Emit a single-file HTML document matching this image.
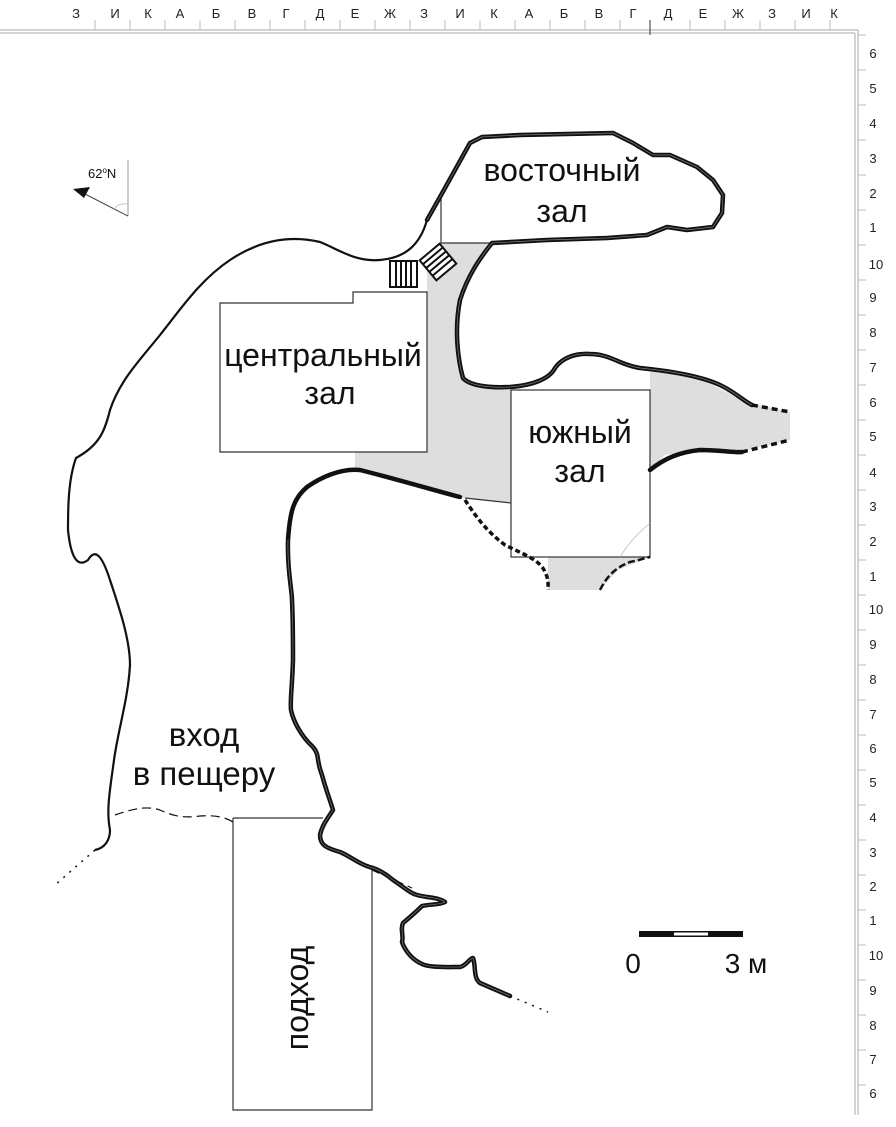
<!DOCTYPE html>
<html><head><meta charset="utf-8"><style>
html,body{margin:0;padding:0;background:#fff;}
svg{display:block;font-family:"Liberation Sans",sans-serif;}
</style></head><body>
<svg width="896" height="1127" viewBox="0 0 896 1127" xmlns="http://www.w3.org/2000/svg">
<!-- rulers -->
<g stroke="#aaa" fill="none" stroke-width="1">
<line x1="0" y1="30" x2="858" y2="30"/><line x1="0" y1="33" x2="855" y2="33"/>
<line x1="858" y1="30" x2="858" y2="1115"/><line x1="855" y1="33" x2="855" y2="1115"/>
</g>
<g stroke="#bbb" stroke-width="1">
<line x1="95" y1="20" x2="95" y2="30"/><line x1="130" y1="20" x2="130" y2="30"/><line x1="165" y1="20" x2="165" y2="30"/><line x1="200" y1="20" x2="200" y2="30"/><line x1="235" y1="20" x2="235" y2="30"/><line x1="270" y1="20" x2="270" y2="30"/><line x1="305" y1="20" x2="305" y2="30"/><line x1="340" y1="20" x2="340" y2="30"/><line x1="375" y1="20" x2="375" y2="30"/><line x1="410" y1="20" x2="410" y2="30"/><line x1="445" y1="20" x2="445" y2="30"/><line x1="480" y1="20" x2="480" y2="30"/><line x1="515" y1="20" x2="515" y2="30"/><line x1="550" y1="20" x2="550" y2="30"/><line x1="585" y1="20" x2="585" y2="30"/><line x1="620" y1="20" x2="620" y2="30"/><line x1="690" y1="20" x2="690" y2="30"/><line x1="725" y1="20" x2="725" y2="30"/><line x1="760" y1="20" x2="760" y2="30"/><line x1="795" y1="20" x2="795" y2="30"/><line x1="830" y1="20" x2="830" y2="30"/>
</g>
<line x1="650" y1="20" x2="650" y2="35" stroke="#333"/>
<g font-size="13" fill="#222" text-anchor="middle">
<text x="76" y="18">З</text><text x="115" y="18">И</text><text x="148" y="18">К</text><text x="180" y="18">А</text><text x="216" y="18">Б</text><text x="252" y="18">В</text><text x="286" y="18">Г</text><text x="320" y="18">Д</text><text x="355" y="18">Е</text><text x="390" y="18">Ж</text><text x="424" y="18">З</text><text x="460" y="18">И</text><text x="494" y="18">К</text><text x="529" y="18">А</text><text x="564" y="18">Б</text><text x="599" y="18">В</text><text x="633" y="18">Г</text><text x="668" y="18">Д</text><text x="703" y="18">Е</text><text x="738" y="18">Ж</text><text x="772" y="18">З</text><text x="806" y="18">И</text><text x="834" y="18">К</text>
</g>
<g font-size="13" fill="#222" text-anchor="middle">
<text x="873" y="58">6</text><text x="873" y="93">5</text><text x="873" y="128">4</text><text x="873" y="163">3</text><text x="873" y="198">2</text><text x="873" y="232">1</text><text x="876" y="269">10</text><text x="873" y="302">9</text><text x="873" y="337">8</text><text x="873" y="372">7</text><text x="873" y="407">6</text><text x="873" y="441">5</text><text x="873" y="477">4</text><text x="873" y="511">3</text><text x="873" y="546">2</text><text x="873" y="581">1</text><text x="876" y="614">10</text><text x="873" y="649">9</text><text x="873" y="684">8</text><text x="873" y="719">7</text><text x="873" y="753">6</text><text x="873" y="787">5</text><text x="873" y="822">4</text><text x="873" y="857">3</text><text x="873" y="891">2</text><text x="873" y="925">1</text><text x="876" y="960">10</text><text x="873" y="995">9</text><text x="873" y="1030">8</text><text x="873" y="1064">7</text><text x="873" y="1098">6</text>
</g>
<g stroke="#bbb">
<line x1="858" y1="35" x2="866" y2="35"/><line x1="858" y1="70" x2="866" y2="70"/><line x1="858" y1="105" x2="866" y2="105"/><line x1="858" y1="140" x2="866" y2="140"/><line x1="858" y1="175" x2="866" y2="175"/><line x1="858" y1="210" x2="866" y2="210"/><line x1="858" y1="245" x2="866" y2="245"/><line x1="858" y1="280" x2="866" y2="280"/><line x1="858" y1="315" x2="866" y2="315"/><line x1="858" y1="350" x2="866" y2="350"/><line x1="858" y1="385" x2="866" y2="385"/><line x1="858" y1="420" x2="866" y2="420"/><line x1="858" y1="455" x2="866" y2="455"/><line x1="858" y1="490" x2="866" y2="490"/><line x1="858" y1="525" x2="866" y2="525"/><line x1="858" y1="560" x2="866" y2="560"/><line x1="858" y1="595" x2="866" y2="595"/><line x1="858" y1="630" x2="866" y2="630"/><line x1="858" y1="665" x2="866" y2="665"/><line x1="858" y1="700" x2="866" y2="700"/><line x1="858" y1="735" x2="866" y2="735"/><line x1="858" y1="770" x2="866" y2="770"/><line x1="858" y1="805" x2="866" y2="805"/><line x1="858" y1="840" x2="866" y2="840"/><line x1="858" y1="875" x2="866" y2="875"/><line x1="858" y1="910" x2="866" y2="910"/><line x1="858" y1="945" x2="866" y2="945"/><line x1="858" y1="980" x2="866" y2="980"/><line x1="858" y1="1015" x2="866" y2="1015"/><line x1="858" y1="1050" x2="866" y2="1050"/><line x1="858" y1="1085" x2="866" y2="1085"/>
</g>

<!-- gray areas -->
<g fill="#dedede" stroke="none">
<path d="M427,292 L427,270 L441,262 L441,243 L490,243 L468,275 L456,310 L458,345 L463,378 L478,386 L511,390 L511,503 L465,498 L400,480 L355,470 L355,452 L427,452 Z"/>
<path d="M650,370 L700,378 L745,402 L790,412 L790,440 L740,452 L700,450 L665,455 L650,470 Z"/>
<path d="M548,557 L650,557 L618,570 L600,590 L548,590 Z"/>
</g>

<!-- thin structures -->
<g fill="none" stroke="#333" stroke-width="1.2">
<path d="M220,303 L353,303 L353,292 L427,292 L427,452 L220,452 Z"/>
<path d="M441,197 L441,243 L490,243"/>
<rect x="511" y="390" width="139" height="167"/>
<path d="M465,498 L511,503"/>
<path d="M233,818 L323,818 M233,818 L233,1110 L372,1110 L372,868"/>
</g>
<path d="M650,523 Q630,540 620,557" fill="none" stroke="#bbb" stroke-width="0.8"/>

<!-- outer left wall -->
<path d="M427,220 C420,245 405,258 380,260 C355,262 340,250 320,242 C290,235 260,240 230,260 C200,280 180,310 160,335 C140,360 120,380 110,410 C105,430 100,445 76,458 C68,480 68,510 68,530 C70,550 75,570 88,560 C95,548 102,555 110,580 C120,610 130,640 130,665 C128,700 118,730 114,760 C110,790 106,810 110,830 C110,840 105,848 95,850" fill="none" stroke="#111" stroke-width="2.2"/>
<path d="M95,850 L55,885" fill="none" stroke="#111" stroke-width="1.5" stroke-dasharray="2,6"/>
<path d="M115,815 C130,810 145,805 160,810 C175,817 185,818 200,816 C215,815 225,817 233,822" fill="none" stroke="#111" stroke-width="1.2" stroke-dasharray="9,5"/>
<path d="M372,870 L412,888" fill="none" stroke="#111" stroke-width="1.2" stroke-dasharray="8,5"/>

<!-- thick double walls -->
<g fill="none" stroke-linejoin="round" stroke-linecap="round">
<g stroke="#111" stroke-width="4.5">
<path d="M427,220 L440,197 L470,143 L482,137 L520,135 L613,133 L633,143 L653,155 L670,155 L697,167 L713,180 L723,195 L722,213 L713,227 L687,230 L667,227 L647,235 L607,238 L547,240 L492,243 C480,258 468,275 460,300 C454,330 458,360 463,378 C470,386 490,388 510,387 C535,385 550,378 555,368 C562,358 575,353 590,354 C610,354 620,365 640,368 C680,372 705,378 720,385 C735,392 745,402 752,405"/>
<path d="M650,470 C665,458 680,452 700,450 C720,450 735,453 742,452"/>
<path d="M460,497 C440,492 400,480 360,470 C340,468 320,478 307,487 C294,498 290,510 288,540 C287,570 292,590 292,600 C293,620 293,633 293,660 C292,690 290,700 291,710 C293,720 300,735 313,747 C320,755 316,760 322,775 C326,790 330,800 333,810 C328,818 322,825 320,835 C320,845 326,848 340,852 C350,856 360,865 373,868 C385,872 390,878 393,880 C405,888 410,893 417,895 C428,898 438,897 445,902 C440,905 430,904 422,906 C418,910 415,913 403,923 C400,930 404,936 402,942 C404,948 410,958 420,963 C428,968 445,967 460,967 C466,966 470,958 473,958 C476,965 473,978 480,983 L510,996"/>
</g>
<g stroke="#fff" stroke-width="0.7" stroke-opacity="0.45">
<path d="M427,220 L440,197 L470,143 L482,137 L520,135 L613,133 L633,143 L653,155 L670,155 L697,167 L713,180 L723,195 L722,213 L713,227 L687,230 L667,227 L647,235 L607,238 L547,240 L492,243 C480,258 468,275 460,300 C454,330 458,360 463,378 C470,386 490,388 510,387 C535,385 550,378 555,368 C562,358 575,353 590,354 C610,354 620,365 640,368 C680,372 705,378 720,385 C735,392 745,402 752,405"/>
<path d="M288,540 C287,570 292,590 292,600 C293,620 293,633 293,660 C292,690 290,700 291,710 C293,720 300,735 313,747 C320,755 316,760 322,775 C326,790 330,800 333,810 C328,818 322,825 320,835 C320,845 326,848 340,852 C350,856 360,865 373,868 C385,872 390,878 393,880 C405,888 410,893 417,895 C428,898 438,897 445,902 C440,905 430,904 422,906 C418,910 415,913 403,923 C400,930 404,936 402,942 C404,948 410,958 420,963 C428,968 445,967 460,967 C466,966 470,958 473,958 C476,965 473,978 480,983 L510,996"/>
</g>
</g>
<path d="M752,405 L790,412" fill="none" stroke="#111" stroke-width="3.5" stroke-dasharray="6,4"/>
<path d="M742,452 L790,440" fill="none" stroke="#111" stroke-width="3.5" stroke-dasharray="6,4"/>
<path d="M465,500 C475,515 485,530 505,545 C525,555 540,560 545,572 C549,580 548,585 548,590" fill="none" stroke="#111" stroke-width="3.5" stroke-dasharray="5,3"/>
<path d="M600,590 C606,578 614,568 630,562 C640,560 645,558 650,557" fill="none" stroke="#111" stroke-width="2.5" stroke-dasharray="7,3"/>
<path d="M510,996 L548,1012" fill="none" stroke="#111" stroke-width="1.5" stroke-dasharray="2,6"/>

<!-- stairs -->
<g fill="#fff" stroke="#111" stroke-width="2">
<rect x="390" y="261" width="27" height="26"/>
<line x1="396" y1="261" x2="396" y2="287"/><line x1="401" y1="261" x2="401" y2="287"/><line x1="406" y1="261" x2="406" y2="287"/><line x1="411" y1="261" x2="411" y2="287"/>
<g transform="translate(438,262) rotate(-40)">
<rect x="-13" y="-13" width="26" height="26"/>
<line x1="-13" y1="-8" x2="13" y2="-8"/><line x1="-13" y1="-3" x2="13" y2="-3"/><line x1="-13" y1="2" x2="13" y2="2"/><line x1="-13" y1="7" x2="13" y2="7"/>
</g>
</g>

<!-- compass -->
<line x1="128" y1="160" x2="128" y2="216" stroke="#999" stroke-width="1"/>
<line x1="128" y1="216" x2="85" y2="194" stroke="#444" stroke-width="1"/>
<polygon points="73,189 90,187 84,198" fill="#111"/>
<path d="M114,209 A14,14 0 0,1 128,204" fill="none" stroke="#bbb" stroke-width="0.8"/>
<text x="88" y="178" font-size="13" fill="#111">62<tspan font-size="8" dy="-5">o</tspan><tspan dy="5">N</tspan></text>

<!-- scale bar -->
<rect x="639" y="931" width="104" height="6" fill="#111"/>
<rect x="674" y="932.5" width="34" height="3" fill="#fff"/>
<text x="633" y="973" font-size="28" fill="#111" text-anchor="middle">0</text>
<text x="746" y="973" font-size="28" fill="#111" text-anchor="middle">3 м</text>

<!-- labels -->
<g font-size="32" fill="#111" text-anchor="middle">
<text x="562" y="181">восточный</text>
<text x="562" y="222">зал</text>
<text x="323" y="366">центральный</text>
<text x="330" y="404">зал</text>
<text x="580" y="443">южный</text>
<text x="580" y="482">зал</text>
<text x="204" y="746" font-size="33">вход</text>
<text x="204" y="785" font-size="33">в пещеру</text>
<text transform="translate(308,998) rotate(-90)">подход</text>
</g>
</svg>
</body></html>
